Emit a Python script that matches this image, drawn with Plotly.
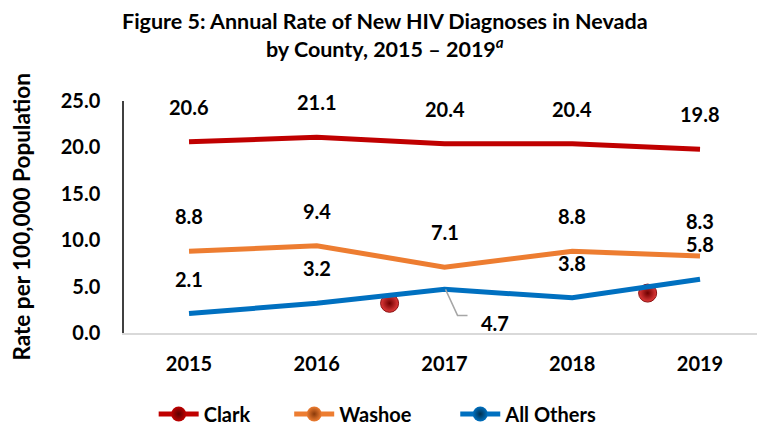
import plotly.graph_objects as go

years = ["2015", "2016", "2017", "2018", "2019"]
clark = [20.6, 21.1, 20.4, 20.4, 19.8]
washoe = [8.8, 9.4, 7.1, 8.8, 8.3]
others = [2.1, 3.2, 4.7, 3.8, 5.8]
stray_x = [1.57, 3.59]
stray_y = [3.2, 4.3]
yticks = [0, 5, 10, 15, 20, 25]
series_names = ["Clark", "Washoe", "All Others"]

RED = "#C00000"
ORANGE = "#ED7D31"
BLUE = "#0070C0"
FONT = "Lato"
NBSP = "\u00a0"


def bfont(size):
    return dict(family=FONT, size=size, color="black", weight="bold")


fig = go.Figure()
xi = list(range(len(years)))

# stray sphere markers (drawn beneath the lines)
fig.add_trace(go.Scatter(x=stray_x, y=stray_y, mode="markers",
                         marker=dict(size=18, color="#E23A3A",
                                     gradient=dict(type="radial", color="#6E0000"),
                                     line=dict(color="#8A1010", width=1)),
                         showlegend=False, hoverinfo="skip"))

for vals, col in [(clark, RED), (washoe, ORANGE), (others, BLUE)]:
    fig.add_trace(go.Scatter(x=xi, y=vals, mode="lines", line=dict(color=col, width=5),
                             showlegend=False, hoverinfo="skip"))

# legend entries
pads = [7, 8, 0]
for name, pad, col, dark in zip(series_names, pads, [RED, ORANGE, BLUE], ["#5A0000", "#8A3A0A", "#00304F"]):
    fig.add_trace(go.Scatter(x=[None], y=[None], mode="lines+markers", name=name + NBSP * pad,
                             line=dict(color=col, width=5),
                             marker=dict(size=15, color=col, gradient=dict(type="radial", color=dark),
                                         line=dict(width=0))))

lab_font = bfont(20)
anns = []
for i, v in enumerate(clark):
    anns.append(dict(x=i, y=v, text=f"{v:.1f}", showarrow=False, yshift=35, font=lab_font))
for i, v in enumerate(washoe):
    anns.append(dict(x=i, y=v, text=f"{v:.1f}", showarrow=False, yshift=35, font=lab_font))
for i, v in enumerate(others):
    if i == 2:
        anns.append(dict(x=i, y=v, text=f"{v:.1f}", showarrow=False, xshift=50, yshift=-34, font=lab_font))
    else:
        anns.append(dict(x=i, y=v, text=f"{v:.1f}", showarrow=False, yshift=35, font=lab_font))

# title
anns.append(dict(xref="paper", yref="paper", x=0.412, y=1.283, xanchor="center", yanchor="middle",
                 showarrow=False, align="center", font=bfont(21.5),
                 text="Figure 5: Annual Rate of New HIV Diagnoses in Nevada<br>by County, 2015 – 2019<i><sup>a</sup></i>"))
# y-axis title
anns.append(dict(xref="paper", yref="paper", x=-0.162, y=0.5, xanchor="center", yanchor="middle",
                 showarrow=False, textangle=-90, font=bfont(22.5), text="Rate per 100,000 Population"))

fig.add_shape(type="path", xref="x", yref="y", xsizemode="pixel", ysizemode="pixel",
              xanchor=2, yanchor=others[2], path="M1,0 L13,-26 L23,-26",
              line=dict(color="#A6A6A6", width=1.5))

fig.update_layout(
    width=757, height=425,
    margin=dict(l=124, r=0, t=101, b=92, autoexpand=False),
    paper_bgcolor="white", plot_bgcolor="white",
    font=dict(family=FONT, color="black"),
    annotations=anns,
    showlegend=True,
    legend=dict(orientation="h", xref="container", yref="paper", x=0.203, xanchor="left",
                y=-0.349, yanchor="middle",
                font=bfont(20), itemwidth=40, tracegroupgap=0, bgcolor="rgba(0,0,0,0)"),
)
fig.update_xaxes(range=[-0.509, 4.446], tickvals=xi, ticktext=years,
                 showline=True, linecolor="#D9D9D9", linewidth=1.5, showgrid=False, zeroline=False,
                 ticks="", ticklabelstandoff=12, tickfont=bfont(20), automargin=False)
fig.update_yaxes(range=[0, 25], tickvals=yticks, ticktext=[f"{t:.1f}" for t in yticks],
                 showline=True, linecolor="#404040", linewidth=1.5, showgrid=False, zeroline=False,
                 ticks="", ticklabelstandoff=18, tickfont=bfont(20), automargin=False)

fig.write_html("out.html", config={"displayModeBar": False},
               post_script="document.body.style.margin='0';")
